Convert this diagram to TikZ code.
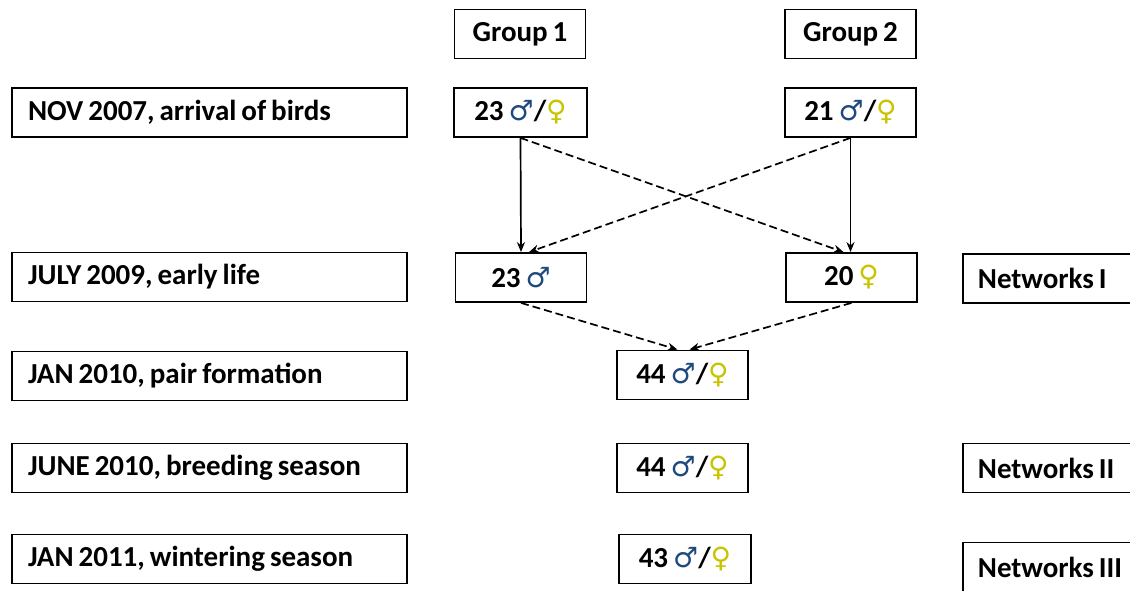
\documentclass[tikz,border=0pt]{standalone}
\usepackage{fontspec}
\setmainfont{Carlito}
\newfontfamily\symfont{DejaVu Sans}
\usetikzlibrary{arrows.meta,calc}
\definecolor{mblue}{RGB}{31,73,125}
\definecolor{fyellow}{RGB}{200,196,0}
\newcommand{\mlsym}{{\symfont\bfseries\fontsize{28}{28}\selectfont\color{mblue}♂}}
\newcommand{\fmsym}{{\symfont\bfseries\fontsize{28}{28}\selectfont\color{fyellow}♀}}
\newcommand{\tightsp}{\spaceskip=5pt plus 1pt\relax}
\begin{document}
\begin{tikzpicture}[x=1pt,y=-1pt,
  box/.style={draw,line width=1.8pt,minimum height=49pt,inner ysep=0pt,font=\bfseries\fontsize{29}{30}\selectfont,execute at begin node=\tightsp},
  lbox/.style={box,inner xsep=16pt,text width=363pt,align=left},
  nbox/.style={box,inner xsep=15pt,text width=170pt,align=left,anchor=west},
  cbox/.style={box,inner xsep=0pt,minimum width=131pt},
  arr/.style={-{Stealth[length=10pt,width=8pt]},line width=1.7pt},
  darr/.style={arr,dash pattern=on 8pt off 4pt}]
\useasboundingbox (0,0) rectangle (1130,591);
\clip (0,0) rectangle (1130,591);
% left labels
\node[lbox] (l1) at (209.5,112.5) {NOV 2007, arrival of birds};
\node[lbox] (l2) at (209.5,277) {JULY 2009, early life};
\node[lbox] (l3) at (209.5,376) {JAN 2010, pair formation};
\node[lbox] (l4) at (209.5,468) {JUNE 2010, breeding season};
\node[lbox] (l5) at (209.5,559) {JAN 2011, wintering season};
% groups
\node[cbox] (g1) at (520,34) {Group 1};
\node[cbox] (g2) at (850.5,34) {Group 2};
% counts
\node[cbox,minimum width=133pt] (a) at (520.5,112.5) {23 \mlsym/\fmsym};
\node[cbox] (b) at (850.5,112.5) {21 \mlsym/\fmsym};
\node[cbox] (c) at (521,277.5) {23 \mlsym};
\node[cbox] (d) at (851.5,277.5) {20 \fmsym};
\node[cbox] (e) at (682.5,375) {44 \mlsym/\fmsym};
\node[cbox] (f) at (682.5,468) {44 \mlsym/\fmsym};
\node[cbox,minimum width=132pt] (g) at (685,559) {43 \mlsym/\fmsym};
% networks
\node[nbox] (n1) at (962,278.5) {Networks I};
\node[nbox] (n2) at (962,468) {Networks II};
\node[nbox] (n3) at (962,567) {Networks III};
% arrows
\draw[arr] (a.south) -- (c.north);
\draw[darr] (a.south) -- ($(d.north)+(-8,0)$);
\draw[arr] (b.south) -- ($(d.north)+(-1,0)$);
\draw[darr] (b.south) -- ($(c.north)+(8,0)$);
\draw[darr] (c.south) -- ($(e.north)+(-5,0)$);
\draw[darr] (d.south) -- ($(e.north)+(7,0)$);
\end{tikzpicture}
\end{document}
